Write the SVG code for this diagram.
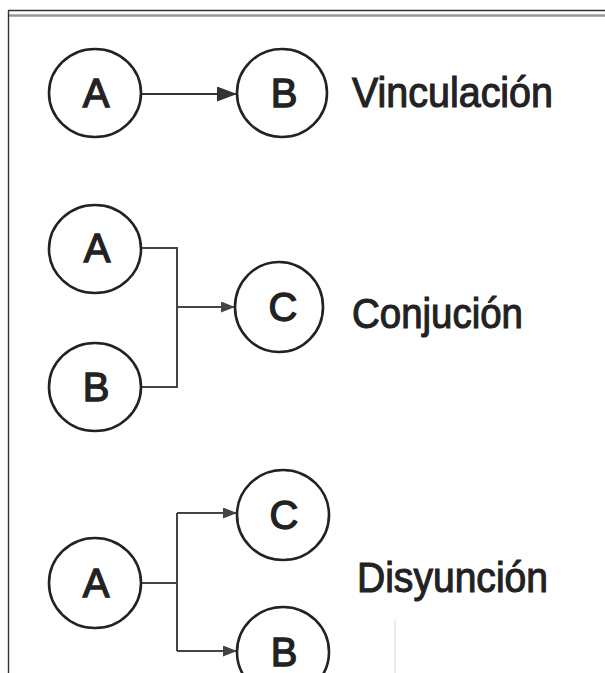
<svg xmlns="http://www.w3.org/2000/svg" width="605" height="673" viewBox="0 0 605 673">
<style>
.node ellipse{fill:#fff;stroke:#222;stroke-width:2.6}
.node text{font-family:"Liberation Sans",Arial,sans-serif;font-size:40px;fill:#222;stroke:#222;stroke-width:1.3;text-anchor:middle}
.label{font-family:"Liberation Sans",Arial,sans-serif;font-size:42px;fill:#222;stroke:#222;stroke-width:1.1}
.conn{fill:none;stroke:#444;stroke-width:2}
.conn1{fill:none;stroke:#333;stroke-width:2.2}
</style>
<defs>
<marker id="arrowL" markerUnits="userSpaceOnUse" markerWidth="20" markerHeight="15" refX="20" refY="7.5" orient="auto"><path d="M0,0 L20,7.5 L0,15 Z" fill="#333"/></marker>
<marker id="arrowS" markerUnits="userSpaceOnUse" markerWidth="14" markerHeight="11" refX="14" refY="5.5" orient="auto"><path d="M0,0 L14,5.5 L0,11 Z" fill="#444"/></marker>
</defs>
<rect width="605" height="673" fill="#fff"/>
<g id="frame">
<line x1="8" y1="10.5" x2="605" y2="10.5" stroke="#333" stroke-width="1.4"/>
<line x1="9" y1="15.5" x2="605" y2="15.5" stroke="#999" stroke-width="2.5"/>
<line x1="8.5" y1="10" x2="8.5" y2="673" stroke="#333" stroke-width="1.4"/>
<line x1="395" y1="620" x2="395" y2="673" stroke="#ececec" stroke-width="2"/>
</g>
<g id="connectors">
<path class="conn1" d="M142,94 L237,94" marker-end="url(#arrowL)"/>
<path class="conn" d="M142,248 L177,248 L177,387 L142,387"/>
<path class="conn" d="M177,307 L235,307" marker-end="url(#arrowS)"/>
<path class="conn" d="M142,583 L177,583"/>
<path class="conn" d="M177,513 L177,651"/>
<path class="conn" d="M177,513 L237,513" marker-end="url(#arrowS)"/>
<path class="conn" d="M177,651 L237,651" marker-end="url(#arrowS)"/>
</g>
<g id="r1A" class="node"><ellipse cx="95" cy="93" rx="46" ry="44"/><text x="96" y="107">A</text></g>
<g id="r1B" class="node"><ellipse cx="282" cy="93" rx="45" ry="44"/><text x="284" y="107">B</text></g>
<g id="r2A" class="node"><ellipse cx="95" cy="249" rx="46" ry="44"/><text x="97" y="262">A</text></g>
<g id="r2B" class="node"><ellipse cx="95" cy="387" rx="46" ry="44"/><text x="96" y="401">B</text></g>
<g id="r2C" class="node"><ellipse cx="279" cy="307" rx="44" ry="45"/><text x="283" y="321">C</text></g>
<g id="r3A" class="node"><ellipse cx="95" cy="583" rx="46" ry="45"/><text x="96" y="597">A</text></g>
<g id="r3C" class="node"><ellipse cx="283" cy="515" rx="46" ry="45"/><text x="284" y="529">C</text></g>
<g id="r3B" class="node"><ellipse cx="283" cy="652" rx="46" ry="45"/><text x="284" y="666">B</text></g>
<g id="labels">
<text class="label" x="352" y="107" textLength="201" lengthAdjust="spacingAndGlyphs">Vinculación</text>
<text class="label" x="352" y="328" textLength="171" lengthAdjust="spacingAndGlyphs">Conjución</text>
<text class="label" x="357" y="592" textLength="191" lengthAdjust="spacingAndGlyphs">Disyunción</text>
</g>
</svg>
